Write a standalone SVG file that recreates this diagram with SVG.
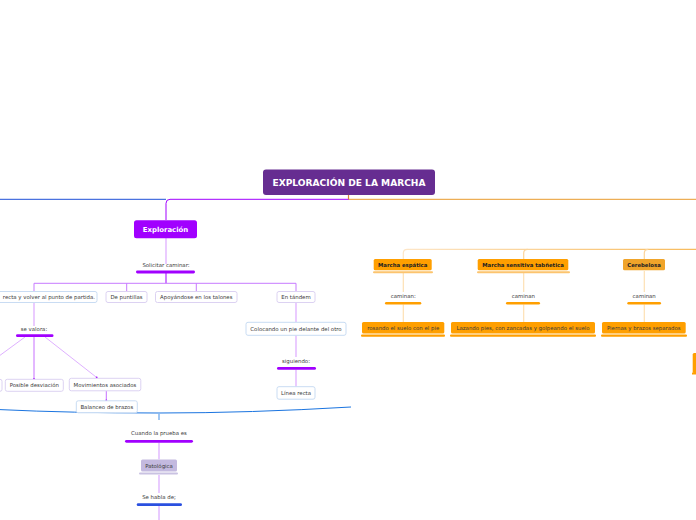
<svg xmlns="http://www.w3.org/2000/svg" width="696" height="520" viewBox="0 0 696 520">
<defs>
<style>
.t{font-family:"DejaVu Sans",Verdana,sans-serif;font-size:5.4px;fill:#3a3a3a;text-anchor:middle}
.tb{font-family:"DejaVu Sans",Verdana,sans-serif;font-weight:bold;text-anchor:middle}
.wb{fill:#fff;rx:2;ry:2;stroke-width:1}
.nb{stroke:#c9dcf3}
.nl{stroke:#dcd2f2}
.on{fill:#ff9f00;rx:1.5;ry:1.5}
.ob{fill:#fcc46e}
.pl{stroke:#a100ff;fill:none;stroke-width:1}
.lp{stroke:#dda8ff;fill:none;stroke-width:1.2}
.lo{stroke:#fde0b4;fill:none;stroke-width:1.2}
.bar{fill:#a100ff}
.obar{fill:#ff9f00}
</style>
<linearGradient id="og" x1="0" x2="1" y1="0" y2="0">
<stop offset="0" stop-color="#fde6c8"/>
<stop offset="1" stop-color="#f8bb5c"/>
</linearGradient>
</defs>
<rect width="696" height="520" fill="#fff"/>
<g id="connectors">
<line x1="0" y1="199.3" x2="166" y2="199.3" stroke="#1e4fd8" stroke-width="1"/>
<path d="M349 199.3 H170 Q166 199.3 166 203.3 V220" class="pl"/>
<line x1="349" y1="199.3" x2="696" y2="199.3" stroke="#e99a2c" stroke-width="1"/>
<line x1="348.5" y1="195" x2="348.5" y2="199.3" stroke="#d9823a" stroke-width="1.2"/>
<line x1="166" y1="238" x2="166" y2="264" class="lp"/>
<line x1="166" y1="272" x2="166" y2="283.3" class="pl"/>
<path d="M34 291 V283.3 H296 V291 M126.7 283.3 V291 M196.3 283.3 V291" stroke="#c77bff" fill="none" stroke-width="1"/>
<line x1="34" y1="302" x2="34" y2="326" class="lp"/>
<line x1="34" y1="337" x2="34" y2="379" stroke="#b94bff" stroke-width="0.8"/>
<line x1="25" y1="337" x2="-20" y2="370" stroke="#c77bff" stroke-width="0.6"/>
<line x1="45" y1="337" x2="96.7" y2="377.5" stroke="#c77bff" stroke-width="0.6"/>
<circle cx="96.7" cy="377.5" r="0.9" fill="#a100ff"/>
<circle cx="34" cy="379" r="0.9" fill="#a100ff"/>
<line x1="106.3" y1="391" x2="106.3" y2="400.7" stroke="#b94bff" stroke-width="0.8"/>
<circle cx="106.3" cy="400.5" r="0.9" fill="#a100ff"/>
<line x1="296" y1="302" x2="296" y2="322.3" class="lp"/>
<line x1="296" y1="335.3" x2="296" y2="357" class="lp"/>
<line x1="296" y1="369.5" x2="296" y2="386.7" class="lp"/>
<path d="M0 409.6 Q70 413 159 413 Q250 413 351 407" stroke="#1a74e0" stroke-width="1" fill="none"/>
<line x1="159" y1="413" x2="159" y2="420" stroke="#8ab9f0" stroke-width="1.6"/>
<line x1="159" y1="442.5" x2="159" y2="459.3" stroke="#e4bfff" stroke-width="1.6"/>
<line x1="159" y1="475" x2="159" y2="493" stroke="#e4bfff" stroke-width="1.6"/>
<line x1="159" y1="505.5" x2="159" y2="520" stroke="#c77bff" stroke-width="0.8"/>
<path d="M403.3 259 V253 Q403.3 249.3 407.3 249.3 H696" stroke="url(#og)" fill="none" stroke-width="1.2"/>
<path d="M523.7 259 V253 Q523.7 249.3 527.7 249.3 M644.3 259 V253 Q644.3 249.3 648.3 249.3" stroke="#fcd49a" fill="none" stroke-width="1.2"/>
<line x1="403.3" y1="273" x2="403.3" y2="292" class="lo"/>
<line x1="523.7" y1="273" x2="523.7" y2="292" class="lo"/>
<line x1="644.3" y1="271" x2="644.3" y2="292" class="lo"/>
<line x1="403.3" y1="304.5" x2="403.3" y2="322" class="lo"/>
<line x1="523.7" y1="304.5" x2="523.7" y2="322" class="lo"/>
<line x1="644.3" y1="304.5" x2="644.3" y2="322" class="lo"/>
</g>
<g id="root">
<rect x="263" y="169.5" width="172" height="25.5" rx="3" fill="#662d91"/>
<text x="349" y="186.2" class="tb" font-size="9.1" fill="#fff">EXPLORACIÓN DE LA MARCHA</text>
</g>
<g id="exploracion">
<rect x="134" y="220.3" width="63" height="18" rx="2.5" fill="#a100ff"/>
<text x="165.5" y="231.8" class="tb" font-size="6.9" fill="#fff">Exploración</text>
</g>
<g id="solicitar">
<text x="166" y="267" class="t">Solicitar caminar:</text>
<rect x="136" y="270.6" width="59" height="2.8" rx="1.4" class="bar"/>
</g>
<g id="recta">
<rect x="-30" y="291.5" width="127" height="11" class="wb nb"/>
<text x="95" y="299" class="t" style="text-anchor:end">recta y volver al punto de partida.</text>
</g>
<g id="puntillas">
<rect x="106" y="291.5" width="41" height="11" class="wb nl"/>
<text x="126.5" y="299" class="t">De puntillas</text>
</g>
<g id="talones">
<rect x="155.5" y="291.5" width="81.5" height="11" class="wb nl"/>
<text x="196.3" y="299" class="t">Apoyándose en los talones</text>
</g>
<g id="tandem">
<rect x="277" y="291.5" width="38" height="11" class="wb nl"/>
<text x="296" y="299" class="t">En tándem</text>
</g>
<g id="sevalora">
<text x="34" y="331.2" class="t">se valora:</text>
<rect x="16" y="334.3" width="37.5" height="2.8" rx="1.4" class="bar"/>
</g>
<g id="partial-left">
<rect x="-40" y="379.3" width="42" height="12" class="wb nl"/>
</g>
<g id="desviacion">
<rect x="5.3" y="379.3" width="58" height="12" class="wb nl"/>
<text x="34.3" y="387.2" class="t">Posible desviación</text>
</g>
<g id="movimientos">
<rect x="69.3" y="378.3" width="71.5" height="12.5" class="wb nl"/>
<text x="105" y="386.5" class="t">Movimientos asociados</text>
</g>
<g id="balanceo">
<rect x="76.3" y="400.8" width="61" height="12" class="wb nb"/>
<text x="106.8" y="408.8" class="t">Balanceo de brazos</text>
</g>
<g id="colocando">
<rect x="246" y="322.3" width="100" height="13" class="wb nb"/>
<text x="296" y="330.8" class="t">Colocando un pie delante del otro</text>
</g>
<g id="siguiendo">
<text x="296" y="362.7" class="t">siguiendo:</text>
<rect x="277" y="367" width="39" height="2.8" rx="1.4" class="bar"/>
</g>
<g id="linearecta">
<rect x="277" y="386.7" width="38" height="12.5" class="wb nb"/>
<text x="296" y="395" class="t">Línea recta</text>
</g>
<g id="cuando">
<text x="159" y="435.3" class="t">Cuando la prueba es</text>
<rect x="125" y="439.9" width="68" height="2.8" rx="1.4" class="bar"/>
</g>
<g id="patologica">
<rect x="139" y="472.6" width="39" height="2" rx="1" fill="#c9c2e2"/>
<rect x="141" y="459.5" width="36" height="12" rx="1.5" fill="#c3b9df"/>
<text x="159" y="467.5" class="t">Patológica</text>
</g>
<g id="sehabla">
<text x="159" y="498.7" class="t">Se habla de;</text>
<rect x="136.7" y="503.3" width="45.3" height="2.8" rx="1.4" fill="#2a50e0"/>
</g>
<g id="espatica">
<rect x="373" y="271.3" width="60" height="2" rx="1" class="ob"/>
<rect x="373.7" y="259" width="58" height="11.2" class="on"/>
<text x="402.7" y="266.7" class="tb" font-size="5.35" fill="#222">Marcha espática</text>
</g>
<g id="sensitiva">
<rect x="477" y="271.3" width="93" height="2" rx="1" class="ob"/>
<rect x="477.7" y="259" width="90.6" height="11.2" class="on"/>
<text x="523" y="266.7" class="tb" font-size="5.35" fill="#222">Marcha sensitiva tabñetica</text>
</g>
<g id="cerebelosa">
<rect x="623" y="259" width="42" height="11.2" rx="1.5" fill="#f0a42a"/>
<text x="644" y="266.7" class="tb" font-size="5.35" fill="#222">Cerebelosa</text>
</g>
<g id="caminan1">
<text x="403.3" y="297.9" class="t">caminan:</text>
<rect x="385" y="302" width="36.3" height="2.6" rx="1.3" class="obar"/>
</g>
<g id="caminan2">
<text x="523.3" y="297.9" class="t">caminan</text>
<rect x="506" y="302" width="34" height="2.6" rx="1.3" class="obar"/>
</g>
<g id="caminan3">
<text x="644.2" y="297.9" class="t">caminan</text>
<rect x="627.3" y="302" width="33.7" height="2.6" rx="1.3" class="obar"/>
</g>
<g id="rosando">
<rect x="361" y="334.5" width="84" height="2.2" rx="1" class="obar"/>
<rect x="362" y="322" width="82.3" height="11.5" class="on"/>
<text x="403.2" y="329.9" class="t" fill="#222">rosando el suelo con el pie</text>
</g>
<g id="lazando">
<rect x="450" y="334.5" width="146" height="2.2" rx="1" class="obar"/>
<rect x="451" y="322" width="144" height="11.5" class="on"/>
<text x="523" y="329.9" class="t" fill="#222">Lazando pies, con zancadas y golpeando el suelo</text>
</g>
<g id="piernas">
<rect x="601" y="334.5" width="86" height="2.2" rx="1" class="obar"/>
<rect x="602" y="322" width="83.7" height="11.5" class="on"/>
<text x="643.8" y="329.9" class="t" fill="#222">Piernas y brazos separados</text>
</g>
<g id="partial-right">
<rect x="692.7" y="353" width="10" height="20" rx="1.5" fill="#ff9f00"/>
<rect x="692" y="372.5" width="10" height="2" fill="#ff9f00"/>
</g>
</svg>
